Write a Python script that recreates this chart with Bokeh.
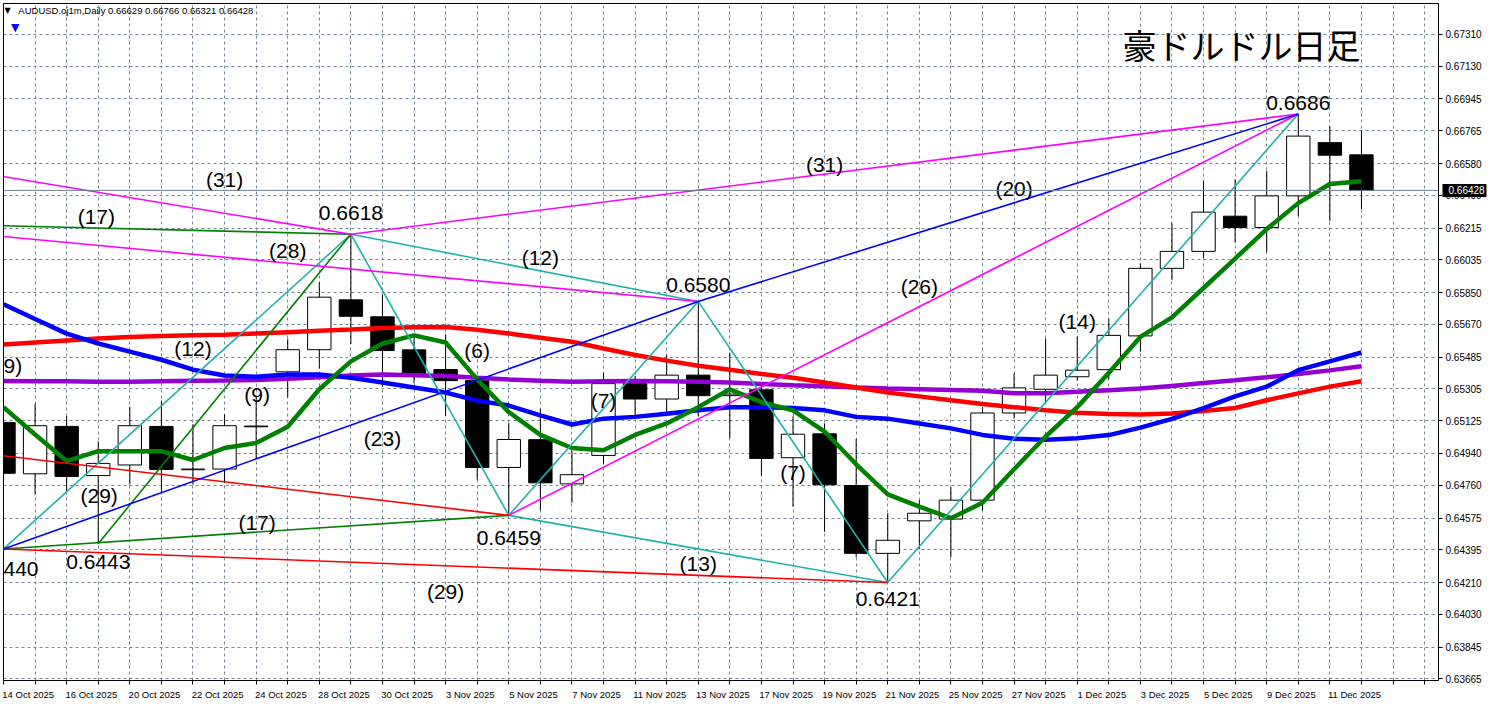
from bokeh.plotting import figure
from bokeh.models import (Range1d, FixedTicker, ColumnDataSource, Span,
                          PrintfTickFormatter, LinearAxis)
from bokeh.core.properties import value
from bokeh.embed import file_html
from bokeh.resources import INLINE

# ---------------- data ----------------
symbol = "AUDUSD.oj1m,Daily"
title_text = "豪ドルドル日足"

dates = ["14 Oct 2025", "15 Oct 2025", "16 Oct 2025", "17 Oct 2025", "20 Oct 2025",
         "21 Oct 2025", "22 Oct 2025", "23 Oct 2025", "24 Oct 2025", "27 Oct 2025",
         "28 Oct 2025", "29 Oct 2025", "30 Oct 2025", "31 Oct 2025", "3 Nov 2025",
         "4 Nov 2025", "5 Nov 2025", "6 Nov 2025", "7 Nov 2025", "10 Nov 2025",
         "11 Nov 2025", "12 Nov 2025", "13 Nov 2025", "14 Nov 2025", "17 Nov 2025",
         "18 Nov 2025", "19 Nov 2025", "20 Nov 2025", "21 Nov 2025", "24 Nov 2025",
         "25 Nov 2025", "26 Nov 2025", "27 Nov 2025", "28 Nov 2025", "1 Dec 2025",
         "2 Dec 2025", "3 Dec 2025", "4 Dec 2025", "5 Dec 2025", "8 Dec 2025",
         "9 Dec 2025", "10 Dec 2025", "11 Dec 2025", "12 Dec 2025"]

opens = [0.65115, 0.64825, 0.65093, 0.64815, 0.64875, 0.65093, 0.64848, 0.64852, 0.65095, 0.65402,
         0.65527, 0.65809, 0.65713, 0.65526, 0.65415, 0.65352, 0.64861, 0.65018, 0.64768, 0.64929,
         0.65335, 0.65248, 0.65383, 0.65267, 0.65300, 0.64916, 0.65051, 0.64759, 0.64375, 0.64559,
         0.64569, 0.64676, 0.65169, 0.65303, 0.65374, 0.65414, 0.65605, 0.65987, 0.66083, 0.66282,
         0.66218, 0.66397, 0.66698, 0.66629]
highs = [0.65180, 0.65222, 0.65152, 0.65008, 0.65204, 0.65239, 0.65106, 0.65161, 0.65259, 0.65587,
         0.65909, 0.66180, 0.65837, 0.65596, 0.65614, 0.65380, 0.65111, 0.65193, 0.64953, 0.65396,
         0.65379, 0.65497, 0.65800, 0.65511, 0.65330, 0.65150, 0.65110, 0.65023, 0.64602, 0.64676,
         0.64749, 0.65202, 0.65392, 0.65590, 0.65601, 0.65701, 0.66015, 0.66242, 0.66480, 0.66489,
         0.66537, 0.66860, 0.66790, 0.66766]
lows = [0.64400, 0.64708, 0.64727, 0.64430, 0.64764, 0.64717, 0.64764, 0.64773, 0.64911, 0.65258,
        0.65420, 0.65559, 0.65319, 0.65337, 0.65152, 0.64791, 0.64590, 0.64620, 0.64661, 0.64882,
        0.65156, 0.65156, 0.65150, 0.65026, 0.64814, 0.64639, 0.64497, 0.64353, 0.64210, 0.64399,
        0.64353, 0.64620, 0.65137, 0.65230, 0.65352, 0.65359, 0.65516, 0.65922, 0.66046, 0.66134,
        0.66079, 0.66282, 0.66255, 0.66321]
closes = [0.64828, 0.65097, 0.64810, 0.64884, 0.65097, 0.64850, 0.64852, 0.65097, 0.65091, 0.65527,
          0.65824, 0.65716, 0.65522, 0.65392, 0.65352, 0.64861, 0.65019, 0.64774, 0.64820, 0.65335,
          0.65248, 0.65383, 0.65267, 0.65276, 0.64912, 0.65049, 0.64763, 0.64375, 0.64449, 0.64602,
          0.64676, 0.65169, 0.65311, 0.65383, 0.65411, 0.65608, 0.65987, 0.66083, 0.66305, 0.66218,
          0.66397, 0.66735, 0.66627, 0.66428]

ma_green = [0.65202, 0.65047, 0.64897, 0.64953, 0.64953, 0.64953, 0.64903, 0.64971, 0.64999, 0.65091,
            0.65303, 0.65461, 0.65562, 0.65608, 0.65568, 0.65359, 0.65174, 0.65045, 0.64971, 0.64958,
            0.65045, 0.65110, 0.65202, 0.65303, 0.65230, 0.65184, 0.65064, 0.64879, 0.64709, 0.64639,
            0.64574, 0.64661, 0.64851, 0.65036, 0.65202, 0.65396, 0.65599, 0.65710, 0.65876, 0.66042,
            0.66209, 0.66356, 0.66464, 0.66480]
ma_red = [0.65557, 0.65568, 0.65579, 0.65590, 0.65599, 0.65604, 0.65608, 0.65612, 0.65618, 0.65626,
          0.65634, 0.65641, 0.65649, 0.65654, 0.65655, 0.65640, 0.65618, 0.65595, 0.65572, 0.65534,
          0.65497, 0.65465, 0.65436, 0.65414, 0.65390, 0.65368, 0.65341, 0.65313, 0.65285, 0.65263,
          0.65241, 0.65220, 0.65202, 0.65184, 0.65171, 0.65163, 0.65161, 0.65166, 0.65180, 0.65197,
          0.65241, 0.65280, 0.65318, 0.65349]
ma_blue = [0.65784, 0.65701, 0.65618, 0.65562, 0.65516, 0.65470, 0.65414, 0.65381, 0.65374, 0.65387,
           0.65387, 0.65368, 0.65341, 0.65313, 0.65285, 0.65239, 0.65211, 0.65156, 0.65104, 0.65137,
           0.65147, 0.65165, 0.65184, 0.65202, 0.65202, 0.65197, 0.65184, 0.65147, 0.65137, 0.65110,
           0.65082, 0.65045, 0.65023, 0.65018, 0.65026, 0.65044, 0.65086, 0.65136, 0.65197, 0.65263,
           0.65318, 0.65411, 0.65461, 0.65511]
ma_purple = [0.65350, 0.65349, 0.65348, 0.65346, 0.65346, 0.65349, 0.65352, 0.65353, 0.65356, 0.65363,
             0.65371, 0.65381, 0.65387, 0.65383, 0.65378, 0.65368, 0.65359, 0.65352, 0.65346, 0.65348,
             0.65350, 0.65348, 0.65346, 0.65341, 0.65333, 0.65326, 0.65320, 0.65313, 0.65307, 0.65303,
             0.65299, 0.65295, 0.65280, 0.65281, 0.65289, 0.65298, 0.65307, 0.65322, 0.65338, 0.65354,
             0.65371, 0.65390, 0.65410, 0.65433]

# swing points: name -> (bar index, price); negative indices lie before the first bar shown
pivots = {"S": (-19, 0.6707), "Q": (-12, 0.6518), "P": (-5, 0.6625),
          "A": (0, 0.6440), "B": (3, 0.6443), "C": (11, 0.6618), "D": (16, 0.6459),
          "E": (22, 0.6580), "F": (28, 0.6421), "G": (41, 0.6686)}

trend_lines = [("A", "C", "#20B2AA"), ("C", "D", "#20B2AA"), ("D", "E", "#20B2AA"),
               ("E", "F", "#20B2AA"), ("F", "G", "#20B2AA"), ("C", "E", "#20B2AA"),
               ("D", "F", "#20B2AA"),
               ("P", "C", "#008000"), ("A", "D", "#008000"), ("B", "C", "#008000"),
               ("S", "C", "#FF00FF"), ("C", "G", "#FF00FF"), ("P", "E", "#FF00FF"),
               ("D", "G", "#FF00FF"),
               ("Q", "D", "#FF0000"), ("A", "F", "#FF0000"),
               ("A", "E", "#0000FF"), ("E", "G", "#0000FF")]

# bar-count labels: (line start, line end, label x in bars, label y in price)
count_labels = [("S", "C", 7.0, 0.66487), ("P", "C", 2.94, 0.66282), ("P", "E", 9.0, 0.66088),
                ("A", "C", 6.0, 0.65534), ("B", "C", 8.03, 0.65274), ("A", "E", 12.0, 0.65025),
                ("Q", "D", 3.03, 0.64703), ("A", "D", 8.03, 0.64548), ("C", "D", 15.0, 0.65523),
                ("C", "E", 17.0, 0.66050), ("D", "E", 19.0, 0.65241), ("E", "F", 25.0, 0.64831),
                ("D", "F", 22.0, 0.64316), ("A", "F", 14.0, 0.64161), ("C", "G", 26.0, 0.66576),
                ("E", "G", 32.0, 0.66437), ("D", "G", 29.0, 0.65883), ("F", "G", 34.0, 0.65684)]

# swing price labels: (pivot, label x, label y)
pivot_labels = [("B", 3.0, 0.64327), ("C", 11.0, 0.66299),
                ("D", 16.0, 0.64460), ("E", 22.0, 0.65895), ("F", 28.0, 0.64116),
                ("G", 41.0, 0.66925)]
# texts cut by the left edge of the chart in the picture: (text, x, y)
edge_texts = [("440", 0.0, 0.64288), ("9)", 0.0, 0.65440)]

y_ticks = [0.67310, 0.67130, 0.66945, 0.66765, 0.66580, 0.66400, 0.66215, 0.66035, 0.65850,
           0.65670, 0.65485, 0.65305, 0.65125, 0.64940, 0.64760, 0.64575, 0.64395, 0.64210,
           0.64030, 0.63845, 0.63665]

# ---------------- figure ----------------
N = len(dates)
xs = list(range(N))
X_END = 45.44

p = figure(width=1487, height=702, output_backend="svg", toolbar_location=None,
           x_range=Range1d(0, X_END), y_range=Range1d(0.63656, 0.67485),
           y_axis_location="right", min_border_left=3, min_border_top=3,
           min_border_right=48, min_border_bottom=22,
           background_fill_color="white", border_fill_color="white")
p.outline_line_color = "black"
p.outline_line_width = 1

GRID = "#778899"
label_pos = [i + 0.78125 for i in range(0, N, 2)]
xt = FixedTicker(ticks=label_pos, minor_ticks=list(range(0, 46)))
xax = p.xaxis[0]
xax.ticker = xt
xax.major_label_overrides = {i + 0.78125: dates[i] for i in range(0, N, 2)}
xax.major_tick_line_color = None
xax.minor_tick_line_color = "black"
xax.minor_tick_in = 0
xax.minor_tick_out = 4
xax.major_label_standoff = 2
xax.major_label_text_font = "Liberation Sans"
xax.major_label_text_font_size = "9.5px"
xax.major_label_text_color = "black"
xax.axis_line_color = "black"
p.xgrid.ticker = xt
p.xgrid.grid_line_color = None
p.xgrid.minor_grid_line_color = GRID
p.xgrid.minor_grid_line_dash = "3 3"

yt = FixedTicker(ticks=y_ticks, minor_ticks=[])
yax = p.yaxis[0]
yax.ticker = yt
yax.formatter = PrintfTickFormatter(format="%.5f")
yax.major_tick_in = 0
yax.major_tick_out = 4
yax.minor_tick_line_color = None
yax.major_label_standoff = 3
yax.major_label_text_font = "Liberation Sans"
yax.major_label_text_font_size = "10px"
yax.major_label_text_color = "black"
yax.axis_line_color = "black"
p.ygrid.ticker = yt
p.ygrid.grid_line_color = GRID
p.ygrid.grid_line_dash = "3 3"

# current price line
last = closes[-1]
p.add_layout(Span(location=last, dimension="width", line_color="#708090", line_width=1))

# price tag: a second right axis (stacked just outside the first) with one thick inward tick
tag = LinearAxis(ticker=FixedTicker(ticks=[last], minor_ticks=[]),
                 formatter=PrintfTickFormatter(format="%.5f"))
tag.axis_line_color = None
tag.minor_tick_line_color = None
tag.major_tick_out = 2
tag.major_tick_in = 42
tag.major_tick_line_width = 13
tag.major_tick_line_color = "black"
tag.major_tick_line_cap = "butt"
tag.major_label_standoff = -38
tag.major_label_text_color = "white"
tag.major_label_text_font = "Liberation Sans"
tag.major_label_text_font_size = "10px"
p.add_layout(tag, "right")

# candles
tops = [max(o, c) for o, c in zip(opens, closes)]
bots = [min(o, c) for o, c in zip(opens, closes)]
fills = ["white" if c >= o else "black" for o, c in zip(opens, closes)]
csrc = ColumnDataSource(dict(x=xs, high=highs, low=lows, top=tops, bottom=bots, fill=fills))
p.segment(x0="x", y0="high", x1="x", y1="low", source=csrc, line_color="black", line_width=1)
p.vbar(x="x", width=0.74, top="top", bottom="bottom", source=csrc,
       fill_color="fill", line_color="black", line_width=1)

# moving averages
p.line(xs, ma_purple, line_color="#9400D3", line_width=4.5)
p.line(xs, ma_red, line_color="#FF0000", line_width=4.5)
p.line(xs, ma_blue, line_color="#0000FF", line_width=4.5)
p.line(xs, ma_green, line_color="#008000", line_width=4.5)

# swing trend lines
for a, b, col in trend_lines:
    (i0, p0), (i1, p1) = pivots[a], pivots[b]
    p.line([i0, i1], [p0, p1], line_color=col, line_width=1.6)

LBL = dict(text_font=value("Liberation Sans"), text_font_size="21px",
           text_baseline="middle", text_color="black")
# bar count labels
cx = [c[2] for c in count_labels]
cy = [c[3] for c in count_labels]
ct = ["(%d)" % (pivots[c[1]][0] - pivots[c[0]][0] + 1) for c in count_labels]
p.text(x=cx, y=cy, text=ct, text_align="center", **LBL)

# swing price labels
px_ = [l[1] for l in pivot_labels]
py_ = [l[2] for l in pivot_labels]
pt_ = ["%.4f" % pivots[l[0]][1] for l in pivot_labels]
p.text(x=px_, y=py_, text=pt_, text_align="center", **LBL)
p.text(x=[e[1] for e in edge_texts], y=[e[2] for e in edge_texts],
       text=[e[0] for e in edge_texts], text_align="left", **LBL)

# title and header
p.text(x=[39.2], y=[0.67252], text=[title_text], text_font=value("Noto Sans CJK JP"),
       text_font_size="34px", text_align="center", text_baseline="middle", text_color="black")
header = "%s  %.5f %.5f %.5f %.5f" % (symbol, opens[-1], highs[-1], lows[-1], closes[-1])
p.text(x=[0.47], y=[0.67446], text=[header], text_font=value("Liberation Sans"),
       text_font_size="9.5px", text_align="left", text_baseline="middle", text_color="black")
p.text(x=[0.13], y=[0.67446], text=["▼"], text_font=value("DejaVu Sans"),
       text_font_size="8px", text_align="center", text_baseline="middle", text_color="black")
p.text(x=[0.37], y=[0.67352], text=["▼"], text_font=value("DejaVu Sans"),
       text_font_size="11px", text_align="center", text_baseline="middle", text_color="#0000FF")

open("out.html", "w").write(file_html(p, INLINE))
